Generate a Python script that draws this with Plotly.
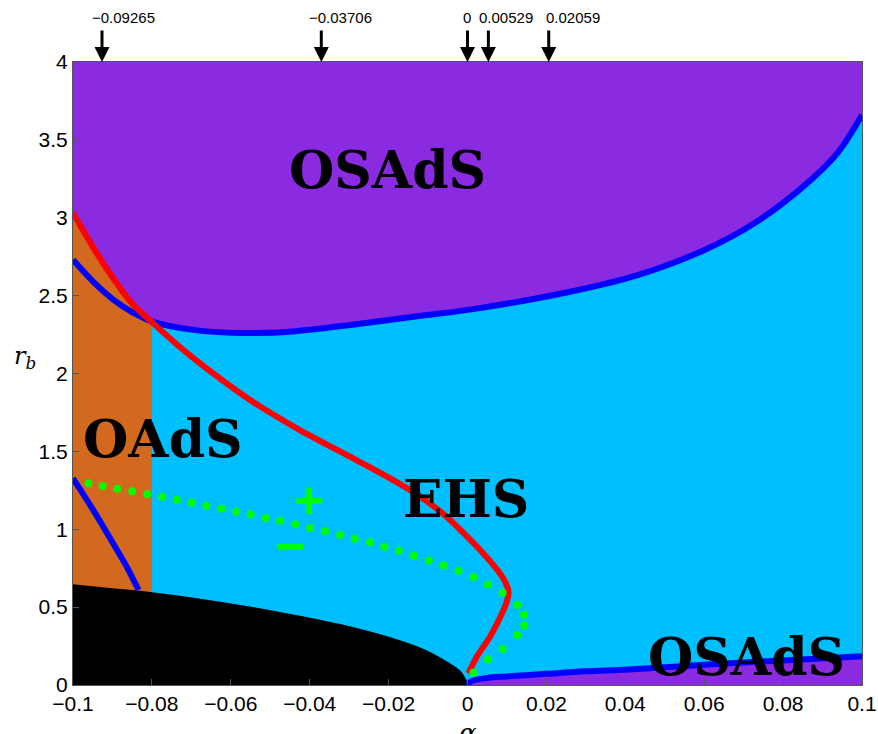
import plotly.graph_objects as go

# ---------------- data ----------------
alpha_blue_up = [-0.1, -0.0949, -0.0898, -0.0847, -0.0801, -0.0695, -0.0577, -0.0442,
                 -0.0273, -0.0103, 0.0006, 0.026, 0.0429, 0.0598, 0.0724, 0.0851, 0.0936, 0.1]
r_blue_up = [2.73, 2.59, 2.475, 2.39, 2.335, 2.28, 2.26, 2.27,
             2.32, 2.375, 2.41, 2.525, 2.63, 2.79, 2.96, 3.20, 3.41, 3.66]

alpha_red = [-0.1, -0.0949, -0.0898, -0.0847, -0.08, -0.0729, -0.0678, -0.0551, -0.0425,
             -0.0298, -0.0196, -0.012, -0.0053, 0.0032, 0.0082, 0.0097, 0.0104, 0.0099,
             0.0091, 0.0057, 0.0023, 0.0002]
r_red = [3.03, 2.81, 2.61, 2.44, 2.33, 2.17, 2.065, 1.83, 1.637,
         1.466, 1.327, 1.21, 1.08, 0.867, 0.717, 0.655, 0.595, 0.53,
         0.48, 0.31, 0.18, 0.075]

alpha_blue_left = [-0.1, -0.0949, -0.0906, -0.0864, -0.0834]
r_blue_left = [1.327, 1.124, 0.942, 0.76, 0.61]

alpha_blue_low = [0.0, 0.001, 0.005, 0.01, 0.02, 0.03, 0.041, 0.06, 0.08, 0.1]
r_blue_low = [0.0, 0.025, 0.045, 0.055, 0.072, 0.088, 0.10, 0.13, 0.158, 0.185]

alpha_black = [-0.1, -0.09, -0.08, -0.0661, -0.0492, -0.0323, -0.0196, -0.0112,
               -0.0053, -0.0019, 0.0]
r_black = [0.64, 0.615, 0.589, 0.541, 0.471, 0.385, 0.30, 0.225, 0.145, 0.085, 0.0]

alpha_green = [-0.0961, -0.0925, -0.0888, -0.0850, -0.0812, -0.0774, -0.0737, -0.0699,
               -0.0662, -0.0624, -0.0586, -0.0550, -0.0512, -0.0475, -0.0437, -0.0399,
               -0.0361, -0.0323, -0.0286, -0.0248, -0.0211, -0.0174, -0.0136, -0.0098,
               -0.0061, -0.0023, 0.0015, 0.0052, 0.0089, 0.0126, 0.0143, 0.0144,
               0.0126, 0.0089, 0.0052, 0.0015]
r_green = [1.295, 1.278, 1.260, 1.244, 1.226, 1.209, 1.190, 1.171,
           1.151, 1.132, 1.113, 1.096, 1.072, 1.055, 1.031, 1.008,
           0.987, 0.963, 0.939, 0.916, 0.888, 0.862, 0.830, 0.800,
           0.768, 0.734, 0.693, 0.646, 0.593, 0.514, 0.451, 0.383,
           0.321, 0.231, 0.163, 0.081]

region_labels = ["OSAdS", "OAdS", "EHS", "OSAdS"]
region_alpha = [-0.0204, -0.0772, -0.0004, 0.0706]
region_r = [3.31, 1.585, 1.20, 0.18]

sign_labels = ["+", "\u2212"]
sign_alpha = [-0.0401, -0.0450]
sign_r = [1.19, 0.894]

marker_values = [-0.09265, -0.03706, 0.0, 0.00529, 0.02059]
marker_labels = ["\u22120.09265", "\u22120.03706", "0", "0.00529", "0.02059"]
marker_label_alpha = [-0.0958, -0.0406, -0.0016, 0.0025, 0.0193]

x_ticks = [-0.1, -0.08, -0.06, -0.04, -0.02, 0.0, 0.02, 0.04, 0.06, 0.08, 0.1]
x_ticklabels = ["\u22120.1", "\u22120.08", "\u22120.06", "\u22120.04", "\u22120.02", "0",
                "0.02", "0.04", "0.06", "0.08", "0.1"]
y_ticks = [0, 0.5, 1, 1.5, 2, 2.5, 3, 3.5, 4]
y_ticklabels = ["0", "0.5", "1", "1.5", "2", "2.5", "3", "3.5", "4"]

# ---------------- colours ----------------
CYAN = "#00BFFF"
PURPLE = "#8A2BE2"
ORANGE = "#D2691E"
BLUE = "#0000FF"
RED = "#FF0000"
GREEN = "#00FF00"

A_SPLIT = -0.08

fig = go.Figure()

# purple top region: above red (alpha<=-0.08) and above upper blue (alpha>-0.08)
top_x = [a for a in alpha_red if a <= A_SPLIT] + [a for a in alpha_blue_up if a > A_SPLIT]
top_y = [r for a, r in zip(alpha_red, r_red) if a <= A_SPLIT] + \
        [r for a, r in zip(alpha_blue_up, r_blue_up) if a > A_SPLIT]
top_x = top_x + [0.1, -0.1]
top_y = top_y + [4.0, 4.0]
fig.add_trace(go.Scatter(x=top_x, y=top_y, fill="toself", fillcolor=PURPLE,
                         mode="lines", line=dict(width=0, color=PURPLE),
                         hoverinfo="skip", showlegend=False))

# orange region between black boundary and red curve for alpha <= -0.08
ob_x = [a for a in alpha_black if a <= A_SPLIT]
ob_y = [r for a, r in zip(alpha_black, r_black) if a <= A_SPLIT]
or_x = [a for a in alpha_red if a <= A_SPLIT][::-1]
or_y = [r for a, r in zip(alpha_red, r_red) if a <= A_SPLIT][::-1]
fig.add_trace(go.Scatter(x=ob_x + or_x, y=ob_y + or_y, fill="toself", fillcolor=ORANGE,
                         mode="lines", line=dict(width=0, color=ORANGE),
                         hoverinfo="skip", showlegend=False))

# black region
fig.add_trace(go.Scatter(x=alpha_black, y=r_black, fill="tozeroy", fillcolor="black",
                         mode="lines", line=dict(width=2, color="black", shape="spline"),
                         hoverinfo="skip", showlegend=False))

# lower purple region + lower blue curve
fig.add_trace(go.Scatter(x=alpha_blue_low, y=r_blue_low, fill="tozeroy", fillcolor=PURPLE,
                         mode="lines", line=dict(width=6, color=BLUE, shape="spline"),
                         hoverinfo="skip", showlegend=False))

# upper blue curve
fig.add_trace(go.Scatter(x=alpha_blue_up, y=r_blue_up, mode="lines",
                         line=dict(width=6, color=BLUE, shape="spline"),
                         hoverinfo="skip", showlegend=False))
# left lower blue curve
fig.add_trace(go.Scatter(x=alpha_blue_left, y=r_blue_left, mode="lines",
                         line=dict(width=6, color=BLUE, shape="spline"),
                         hoverinfo="skip", showlegend=False))
# red curve
fig.add_trace(go.Scatter(x=alpha_red, y=r_red, mode="lines",
                         line=dict(width=6, color=RED, shape="spline", smoothing=0.6),
                         hoverinfo="skip", showlegend=False))
# green dotted curve
fig.add_trace(go.Scatter(x=alpha_green, y=r_green, mode="markers",
                         marker=dict(size=8, color=GREEN, line=dict(width=0)),
                         hoverinfo="skip", showlegend=False))

annotations = []
for t, a, r in zip(region_labels, region_alpha, region_r):
    annotations.append(dict(x=a, y=r, xref="x", yref="y", text="<b>" + t + "</b>",
                            showarrow=False, xanchor="center", yanchor="middle",
                            font=dict(family="DejaVu Serif, serif",
                                      size=52, color="black")))
for t, a, r in zip(sign_labels, sign_alpha, sign_r):
    annotations.append(dict(x=a, y=r, xref="x", yref="y", text="<b>" + t + "</b>",
                            showarrow=False, xanchor="center", yanchor="middle",
                            font=dict(family="Liberation Sans, Arial, sans-serif",
                                      size=52, color=GREEN)))
for v in marker_values:
    annotations.append(dict(x=v, y=1.0, xref="x", yref="paper", text="",
                            showarrow=True, arrowhead=2, arrowsize=1, arrowwidth=3,
                            arrowcolor="black", ax=0, ay=-33, standoff=0))
for a, t in zip(marker_label_alpha, marker_labels):
    annotations.append(dict(x=a, y=1.072, xref="x", yref="paper", text=t,
                            showarrow=False, xanchor="left", yanchor="middle",
                            font=dict(family="Liberation Sans, Arial, sans-serif",
                                      size=15, color="black")))
annotations.append(dict(x=-0.061, y=0.526, xref="paper", yref="paper",
                        text="<i>r</i><sub><i>b</i></sub>", showarrow=False,
                        xanchor="center", yanchor="middle",
                        font=dict(family="DejaVu Serif, serif", size=24, color="black")))
annotations.append(dict(x=0.5, y=-0.05, xref="paper", yref="paper",
                        text="<i>\u03b1</i>", showarrow=False,
                        xanchor="center", yanchor="top",
                        font=dict(family="DejaVu Serif, serif", size=26, color="black")))

axis_common = dict(showgrid=False, zeroline=False, showline=True, linecolor="#555",
                   linewidth=1, mirror=True, ticks="inside", ticklen=6, tickcolor="#555",
                   automargin=False,
                   tickfont=dict(family="Liberation Sans, Arial, sans-serif", size=21,
                                 color="black"))

fig.update_layout(
    width=878, height=734,
    margin=dict(l=73, r=16, t=62, b=49),
    paper_bgcolor="white",
    plot_bgcolor=CYAN,
    showlegend=False,
    annotations=annotations,
    xaxis=dict(range=[-0.1, 0.1], tickvals=x_ticks, ticktext=x_ticklabels, **axis_common),
    yaxis=dict(range=[0, 4], tickvals=y_ticks, ticktext=y_ticklabels, **axis_common),
)

fig.write_html("out.html",
               config={"displayModeBar": False},
               post_script="document.body.style.margin='0px';"
                           "document.documentElement.style.overflow='hidden';")
